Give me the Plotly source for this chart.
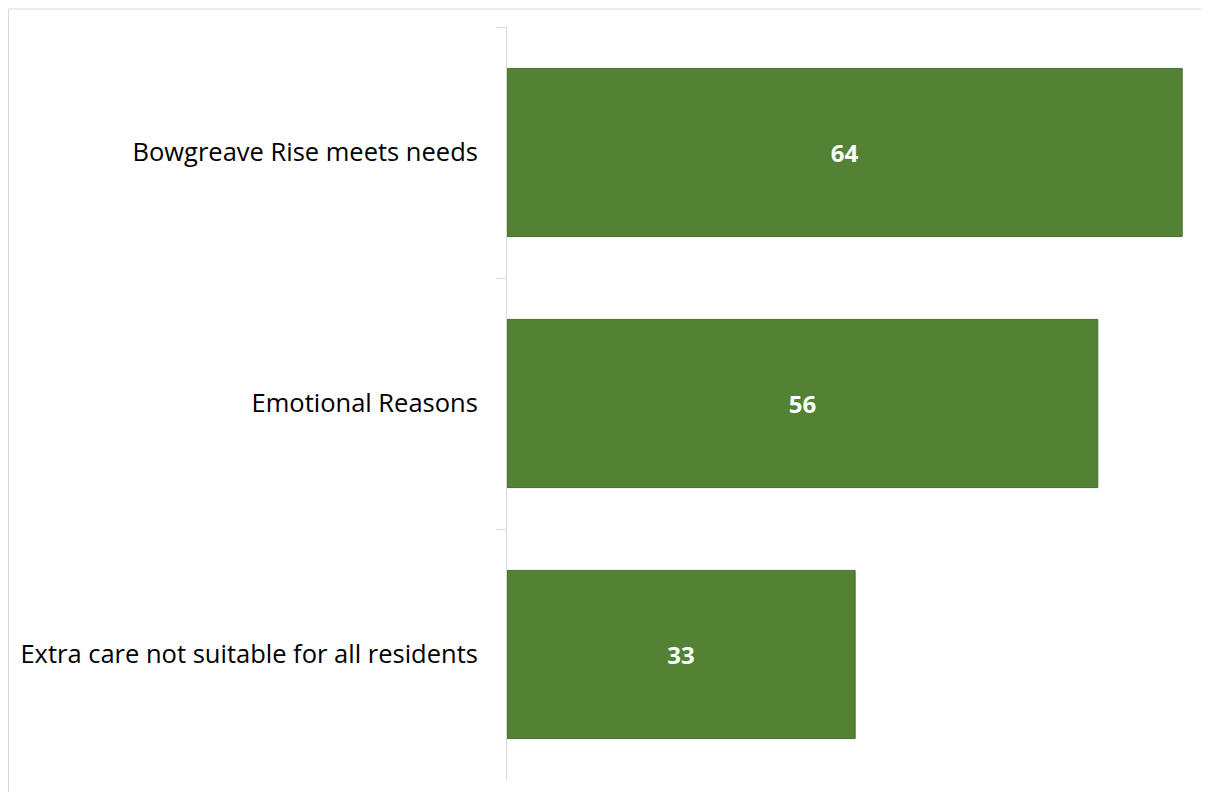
import plotly.graph_objects as go

categories = ["Bowgreave Rise meets needs", "Emotional Reasons", "Extra care not suitable for all residents"]
values = [64, 56, 33]

# page has an 8px body margin; figure overflows slightly on the right like the reference
W, H = 1209, 784
L, R, T, B = 499, 0, 19, 12

plot_w = W - L - R
plot_h = H - T - B
x_max = plot_w / 10.55  # keep bar scale (~10.55 px per unit)

fig = go.Figure(go.Bar(
    x=values, y=categories, orientation="h",
    marker=dict(color="#548235", line=dict(color="#476f2c", width=1)),
    text=[str(v) for v in values], textposition="inside", insidetextanchor="middle",
    textfont=dict(family="Open Sans", size=24, color="white", weight="bold"),
    hoverinfo="skip",
))

# figure border (light gray) in paper coordinates
fig.add_shape(type="rect", xref="paper", yref="paper",
              x0=(0.5 - L) / plot_w, x1=(W + 5 - L) / plot_w,
              y0=-(B + 5) / plot_h, y1=(plot_h + (T - 1)) / plot_h,
              line=dict(color="#d9d9d9", width=1), fillcolor="rgba(0,0,0,0)", layer="below")

fig.update_layout(
    width=W, height=H,
    margin=dict(l=L, r=R, t=T, b=B, pad=0),
    paper_bgcolor="white", plot_bgcolor="white",
    bargap=0.33, showlegend=False,
    font=dict(family="Open Sans", size=25.5, color="#000000"),
    xaxis=dict(range=[0, x_max], visible=False, showgrid=False, zeroline=False),
    yaxis=dict(autorange="reversed", type="category", showline=True, linecolor="#d9d9d9", linewidth=1,
               ticks="outside", tickson="boundaries", ticklen=10, tickcolor="#d9d9d9",
               ticklabelstandoff=23, showgrid=False,
               tickfont=dict(family="Open Sans", size=25.5, color="#000000")),
)

fig.write_html("out.html")
